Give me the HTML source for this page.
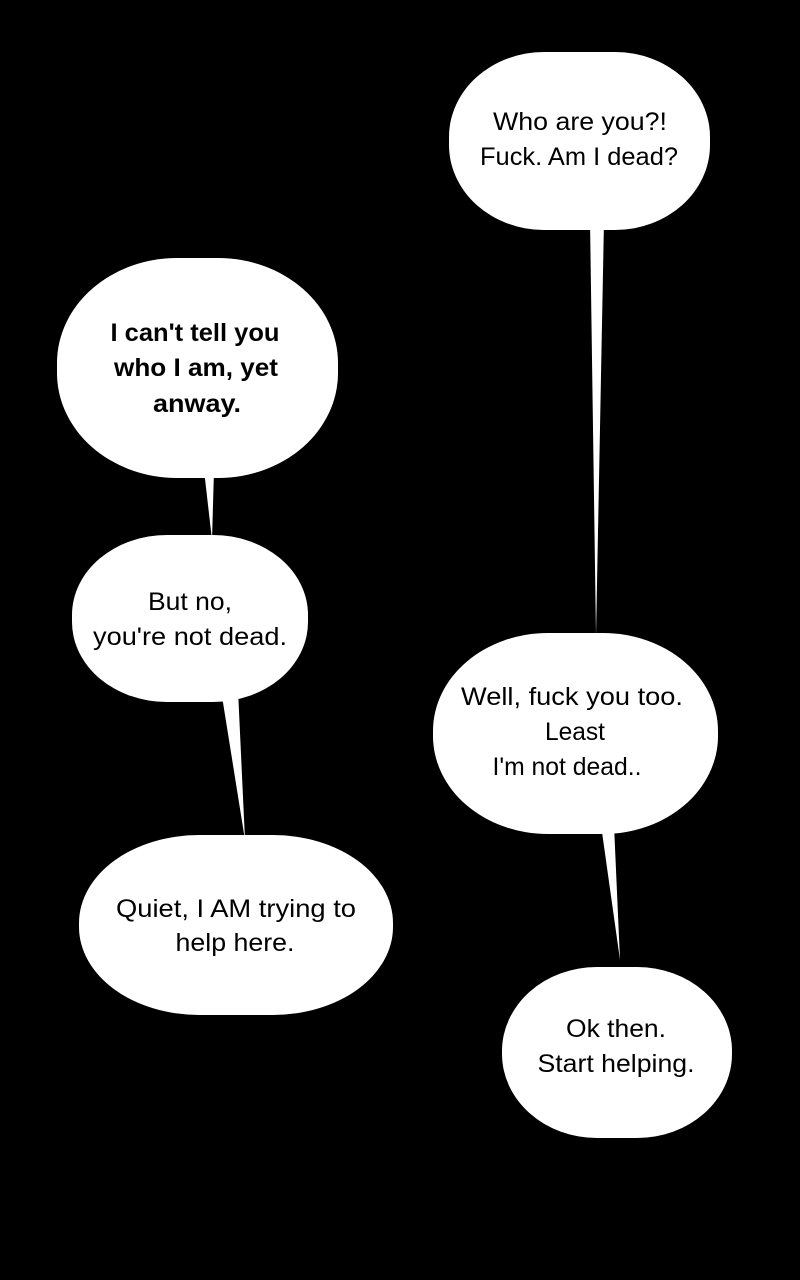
<!DOCTYPE html>
<html><head><meta charset="utf-8"><style>
html,body{margin:0;padding:0;background:#000;}
svg{display:block}
text{font-family:"Liberation Sans","DejaVu Sans",sans-serif;font-size:25px;fill:#000;text-anchor:middle}
</style></head><body>
<svg width="800" height="1280" viewBox="0 0 800 1280" xmlns="http://www.w3.org/2000/svg">
<rect width="800" height="1280" fill="#000"/>
<g fill="#fff">
<polygon points="590,220 604,220 596,636"/>
<polygon points="204,470 214,470 212,540"/>
<polygon points="221,690 238,690 245,840"/>
<polygon points="601,825 614,825 620,960"/>
<rect x="449" y="52" width="261" height="178" rx="95" ry="85"/>
<rect x="57" y="258" width="281" height="220" rx="120" ry="105"/>
<rect x="72" y="535" width="236" height="167" rx="95" ry="80"/>
<rect x="79" y="835" width="314" height="180" rx="120" ry="88"/>
<rect x="433" y="633" width="285" height="201" rx="115" ry="98"/>
<rect x="502" y="967" width="230" height="171" rx="95" ry="84"/>
</g>
<g lengthAdjust="spacingAndGlyphs">
<text x="580" y="130" textLength="174" lengthAdjust="spacingAndGlyphs">Who are you?!</text>
<text x="579" y="165" textLength="198" lengthAdjust="spacingAndGlyphs">Fuck. Am I dead?</text>
<g style="font-weight:bold">
<text x="195" y="341" textLength="169" lengthAdjust="spacingAndGlyphs">I can't tell you</text>
<text x="196" y="376" textLength="164" lengthAdjust="spacingAndGlyphs">who I am, yet</text>
<text x="197" y="412" textLength="88" lengthAdjust="spacingAndGlyphs">anway.</text>
</g>
<text x="190" y="610" textLength="84" lengthAdjust="spacingAndGlyphs">But no,</text>
<text x="190" y="645" textLength="194" lengthAdjust="spacingAndGlyphs">you're not dead.</text>
<text x="236" y="917" textLength="240" lengthAdjust="spacingAndGlyphs">Quiet, I AM trying to</text>
<text x="235" y="951" textLength="119" lengthAdjust="spacingAndGlyphs">help here.</text>
<text x="572" y="705" textLength="222" lengthAdjust="spacingAndGlyphs">Well, fuck you too.</text>
<text x="575" y="740" textLength="60" lengthAdjust="spacingAndGlyphs">Least</text>
<text x="567" y="775" textLength="149" lengthAdjust="spacingAndGlyphs">I'm not dead..</text>
<text x="616" y="1037" textLength="100" lengthAdjust="spacingAndGlyphs">Ok then.</text>
<text x="616" y="1072" textLength="157" lengthAdjust="spacingAndGlyphs">Start helping.</text>
</g>
</svg>
</body></html>
